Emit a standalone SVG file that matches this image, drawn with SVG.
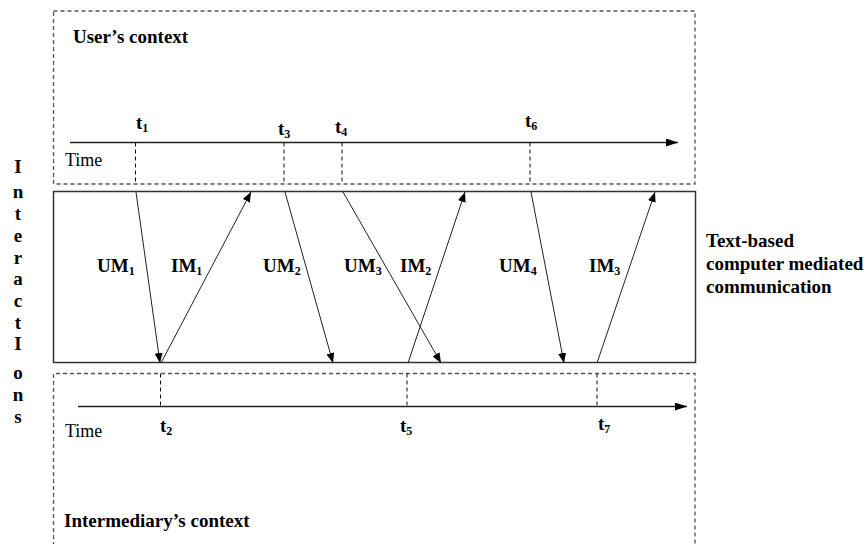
<svg xmlns="http://www.w3.org/2000/svg" width="866" height="544" viewBox="0 0 866 544">
<style>
text{font-family:"Liberation Serif","Times New Roman",serif;fill:#000}
.b{font-weight:bold;font-size:19px}
.r{font-size:18px}
.sub{font-size:12px}
.ctx{fill:none;stroke:#555;stroke-width:1.3;stroke-dasharray:4 3}
.box{fill:none;stroke:#333;stroke-width:1.5}
.tl{stroke:#222;stroke-width:1.3;fill:none}
.tick{stroke:#111;stroke-width:1;stroke-dasharray:4 3;fill:none}
.msg{stroke:#222;stroke-width:1;fill:none;marker-end:url(#ah)}
.vt{font-weight:bold;font-size:19px;text-anchor:middle}
</style>
<defs>
<marker id="ah" viewBox="0 0 10 8" refX="10" refY="4" markerWidth="10" markerHeight="8" markerUnits="userSpaceOnUse" orient="auto">
<path d="M0,0 L10,4 L0,8 Z" fill="#000"/>
</marker>
<marker id="th" viewBox="0 0 12 8" refX="12" refY="4" markerWidth="12" markerHeight="8" markerUnits="userSpaceOnUse" orient="auto">
<path d="M0,0 L12,4 L0,8 Z" fill="#000"/>
</marker>
</defs>

<g id="users-context">
<rect class="ctx" x="53.5" y="11" width="641.5" height="173"/>
<text class="b" x="73" y="43">User’s context</text>
<line class="tl" x1="70" y1="142.5" x2="678" y2="142.5" marker-end="url(#th)"/>
<text class="r" x="65" y="166">Time</text>
<line class="tick" x1="135.5" y1="142.5" x2="135.5" y2="184"/>
<line class="tick" x1="284" y1="142.5" x2="284" y2="184"/>
<line class="tick" x1="342" y1="142.5" x2="342" y2="184"/>
<line class="tick" x1="530" y1="142.5" x2="530" y2="184"/>
<text class="b" x="136" y="129">t<tspan class="sub" dy="3">1</tspan></text>
<text class="b" x="278" y="135">t<tspan class="sub" dy="3">3</tspan></text>
<text class="b" x="335" y="133">t<tspan class="sub" dy="3">4</tspan></text>
<text class="b" x="525" y="127">t<tspan class="sub" dy="3">6</tspan></text>
</g>

<g id="cmc-channel">
<rect class="box" x="53.5" y="191.5" width="642" height="171"/>
<text class="b" x="706" y="247">Text-based</text>
<text class="b" x="706" y="270">computer mediated</text>
<text class="b" x="706" y="293">communication</text>
</g>

<g id="intermediary-context">
<path class="ctx" d="M53.5,560 V373.5 H695 V560"/>
<text class="b" x="64" y="527">Intermediary’s context</text>
<line class="tl" x1="78" y1="406.5" x2="687" y2="406.5" marker-end="url(#th)"/>
<text class="r" x="65" y="437">Time</text>
<line class="tick" x1="160.5" y1="373.5" x2="160.5" y2="406.5"/>
<line class="tick" x1="407" y1="373.5" x2="407" y2="406.5"/>
<line class="tick" x1="597" y1="373.5" x2="597" y2="406.5"/>
<text class="b" x="160" y="432">t<tspan class="sub" dy="3">2</tspan></text>
<text class="b" x="400" y="432">t<tspan class="sub" dy="3">5</tspan></text>
<text class="b" x="598" y="430">t<tspan class="sub" dy="3">7</tspan></text>
</g>

<g id="interactions-label">
<text class="vt" x="18" y="173">I</text>
<text class="vt" x="18" y="198">n</text>
<text class="vt" x="18" y="220">t</text>
<text class="vt" x="18" y="242">e</text>
<text class="vt" x="18" y="264">r</text>
<text class="vt" x="18" y="285">a</text>
<text class="vt" x="18" y="307">c</text>
<text class="vt" x="18" y="329">t</text>
<text class="vt" x="18" y="350">I</text>
<text class="vt" x="18" y="379">o</text>
<text class="vt" x="18" y="401">n</text>
<text class="vt" x="18" y="423">s</text>
</g>

<g id="connectors">
<line class="msg" x1="136" y1="192" x2="160" y2="363"/>
<line class="msg" x1="161" y1="363" x2="251" y2="192"/>
<line class="msg" x1="285" y1="192" x2="333" y2="363"/>
<line class="msg" x1="343" y1="192" x2="441" y2="363"/>
<line class="msg" x1="408" y1="363" x2="465" y2="192"/>
<line class="msg" x1="531" y1="192" x2="564" y2="363"/>
<line class="msg" x1="597" y1="363" x2="655" y2="192"/>
</g>

<g id="message-labels">
<text class="b" x="97" y="272">UM<tspan class="sub" dy="3">1</tspan></text>
<text class="b" x="171" y="272">IM<tspan class="sub" dy="3">1</tspan></text>
<text class="b" x="263" y="272">UM<tspan class="sub" dy="3">2</tspan></text>
<text class="b" x="344" y="272">UM<tspan class="sub" dy="3">3</tspan></text>
<text class="b" x="400" y="272">IM<tspan class="sub" dy="3">2</tspan></text>
<text class="b" x="499" y="272">UM<tspan class="sub" dy="3">4</tspan></text>
<text class="b" x="589" y="272">IM<tspan class="sub" dy="3">3</tspan></text>
</g>
</svg>
